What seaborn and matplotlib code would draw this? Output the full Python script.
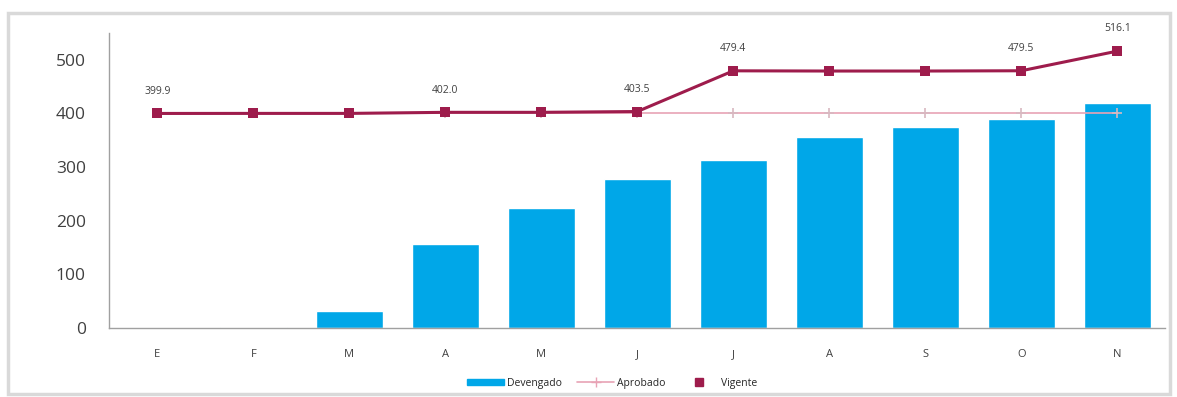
import matplotlib
matplotlib.use("Agg")
import matplotlib.pyplot as plt
import seaborn as sns
import pandas as pd
from matplotlib.patches import Rectangle
from matplotlib.lines import Line2D

months = ["E", "F", "M", "A", "M", "J", "J", "A", "S", "O", "N"]
devengado = [0.0, 2.0, 32.0, 157.0, 224.0, 278.0, 313.0, 356.0, 375.0, 390.0, 420.0]
aprobado = [399.9, 399.9, 399.9, 399.9, 399.9, 399.9, 399.9, 399.9, 399.9, 399.9, 399.9]
vigente = [399.9, 400.0, 400.0, 402.0, 402.0, 403.5, 479.4, 479.0, 479.0, 479.5, 516.1]
label_idx = [0, 3, 5, 6, 9, 10]

sns.set_theme(style="white")
plt.rcParams['font.family'] = ['Open Sans', 'DejaVu Sans']

df = pd.DataFrame({"pos": list(range(len(months))), "mes": months,
                   "Devengado": devengado, "Aprobado": aprobado, "Vigente": vigente})

fig = plt.figure(figsize=(11.77, 3.97), dpi=100)
fig.patches.append(Rectangle((8/1177, 3/397), 1162/1177, 381/397, transform=fig.transFigure,
                             fill=False, edgecolor="#d9d9d9", linewidth=2.5))
ax = fig.add_axes([0.093, 0.174, 0.897, 0.743])

bar_c = "#00a7e8"
vig_c = "#9e1c4c"
apr_c = "#e8a3b5"

sns.barplot(data=df, x="pos", y="Devengado", color=bar_c, width=0.7, saturation=1, ax=ax)
sns.lineplot(data=df, x="pos", y="Aprobado", color=apr_c, linewidth=1.2, marker="+",
             markersize=7, markeredgewidth=1.2, markeredgecolor="#d8b8c0", ax=ax)
sns.lineplot(data=df, x="pos", y="Vigente", color=vig_c, linewidth=2.2, marker="s",
             markersize=7, markeredgewidth=0, ax=ax)

for i in label_idx:
    ax.annotate(f"{vigente[i]:.1f}", (i, vigente[i]), xytext=(0, 12), textcoords="offset points",
                ha="center", va="bottom", fontsize=7.5, color="#404040")

ax.set_xlim(-0.5, len(months) - 0.5)
ax.set_ylim(0, 550)
ax.set_yticks([0, 100, 200, 300, 400, 500])
ax.set_yticklabels(["0", "100", "200", "300", "400", "500"], fontsize=12.5, color="#404040")
ax.set_xticks(range(len(months)))
ax.set_xticklabels(months, fontsize=8, color="#404040")
ax.set_xticks([i + 0.5 for i in range(-1, len(months))], minor=True)
ax.tick_params(axis="x", which="major", length=0, pad=15)
ax.tick_params(axis="x", which="minor", length=3, color="#a0a0a0", direction="out")
ax.tick_params(axis="y", length=3, color="#a0a0a0", direction="out", pad=14)
ax.set_xlabel("")
ax.set_ylabel("")
for s in ["top", "right"]:
    ax.spines[s].set_visible(False)
for s in ["left", "bottom"]:
    ax.spines[s].set_color("#a0a0a0")
    ax.spines[s].set_linewidth(1.0)

handles = [Rectangle((0, 0), 1, 1, color=bar_c),
           Line2D([], [], color=apr_c, marker="+", linewidth=1.2, markersize=7),
           Line2D([], [], color=vig_c, marker="s", linestyle="none", markersize=6)]
fig.legend(handles, ["Devengado", "Aprobado", "Vigente"], loc="center", bbox_to_anchor=(0.52, 0.035),
           ncol=3, frameon=False, fontsize=7.5, handlelength=3.5, handleheight=0.5,
           columnspacing=1.5, handletextpad=0.3)

fig.savefig("out.png", dpi=100)
